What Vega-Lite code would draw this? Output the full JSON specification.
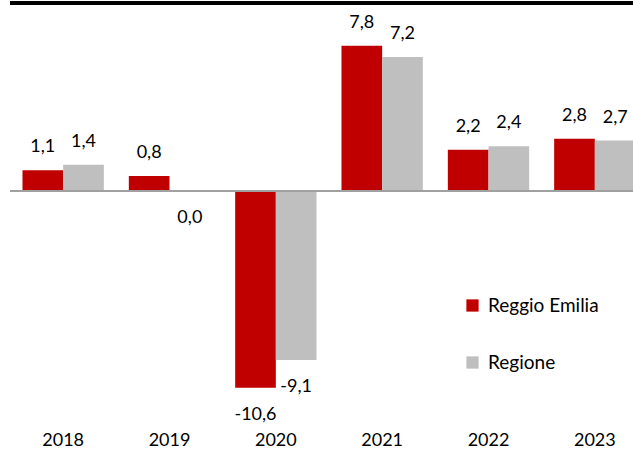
{
  "$schema": "https://vega.github.io/schema/vega-lite/v6.json",
  "width": 638,
  "height": 422,
  "autosize": {"type": "none"},
  "padding": {"left": 10, "top": 3, "right": 0, "bottom": 26},
  "background": "white",
  "config": {
    "view": {"stroke": null},
    "font": "Lato",
    "text": {"font": "Lato"}
  },
  "data": {
    "values": [
      {"year": "2018", "series": "Reggio Emilia", "value": 1.1, "label": "1,1"},
      {"year": "2018", "series": "Regione", "value": 1.4, "label": "1,4"},
      {"year": "2019", "series": "Reggio Emilia", "value": 0.8, "label": "0,8"},
      {"year": "2019", "series": "Regione", "value": 0.0, "label": "0,0"},
      {"year": "2020", "series": "Reggio Emilia", "value": -10.6, "label": "-10,6"},
      {"year": "2020", "series": "Regione", "value": -9.1, "label": "-9,1"},
      {"year": "2021", "series": "Reggio Emilia", "value": 7.8, "label": "7,8"},
      {"year": "2021", "series": "Regione", "value": 7.2, "label": "7,2"},
      {"year": "2022", "series": "Reggio Emilia", "value": 2.2, "label": "2,2"},
      {"year": "2022", "series": "Regione", "value": 2.4, "label": "2,4"},
      {"year": "2023", "series": "Reggio Emilia", "value": 2.8, "label": "2,8"},
      {"year": "2023", "series": "Regione", "value": 2.7, "label": "2,7"}
    ]
  },
  "encoding": {
    "x": {
      "field": "year", "type": "nominal", "title": null,
      "scale": {"paddingInner": 0.235, "paddingOuter": 0.1175},
      "axis": {"domain": false, "ticks": false, "labelAngle": 0, "labelFontSize": 18, "labelColor": "#000000", "labelPadding": 6, "labelFont": "Lato"}
    },
    "xOffset": {"field": "series", "type": "nominal", "sort": ["Reggio Emilia", "Regione"]},
    "y": {
      "field": "value", "type": "quantitative",
      "scale": {"domain": [-12.6, 10.1], "nice": false, "zero": false},
      "axis": null
    }
  },
  "layer": [
    {
      "mark": {"type": "bar"},
      "encoding": {
        "color": {
          "field": "series", "type": "nominal", "title": null,
          "sort": ["Reggio Emilia", "Regione"],
          "scale": {"domain": ["Reggio Emilia", "Regione"], "range": ["#C00000", "#BFBFBF"]},
          "legend": {
            "orient": "none", "legendX": 453, "legendY": 293,
            "symbolType": "square", "symbolSize": 150, "symbolStrokeWidth": 0,
            "labelFontSize": 19, "labelFont": "Lato", "labelColor": "#000000",
            "rowPadding": 37, "labelOffset": 6
          }
        }
      }
    },
    {
      "transform": [{"filter": "datum.value > 0"}],
      "mark": {"type": "text", "baseline": "middle", "dy": -23, "fontSize": 18, "color": "#000000"},
      "encoding": {"text": {"field": "label"}}
    },
    {
      "transform": [{"filter": "datum.value <= 0"}],
      "mark": {"type": "text", "baseline": "middle", "dy": 27, "fontSize": 18, "color": "#000000"},
      "encoding": {"text": {"field": "label"}}
    },
    {
      "mark": {"type": "rule", "color": "#A0A0A0", "strokeWidth": 1.5},
      "encoding": {"y": {"datum": 0}, "x": null, "xOffset": null}
    },
    {
      "mark": {"type": "rule", "color": "#000000", "strokeWidth": 3},
      "encoding": {"y": {"datum": 10.1}, "x": null, "xOffset": null}
    }
  ]
}
